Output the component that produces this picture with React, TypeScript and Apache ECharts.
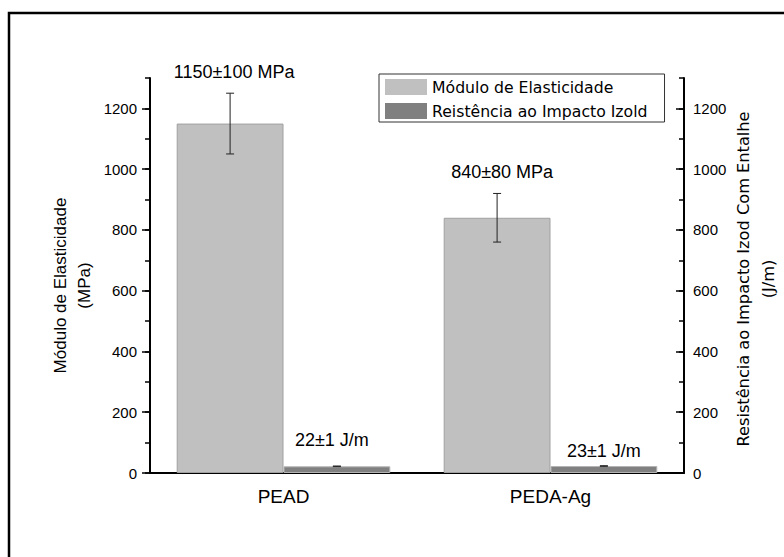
import { useEffect, useRef } from "react";
import * as echarts from "echarts";

const categories = ["PEAD", "PEDA-Ag"];
const seriesNames = ["Módulo de Elasticidade", "Reistência ao Impacto Izold"];
const modulusValues = [1150, 840];
const modulusErrors = [100, 80];
const impactValues = [22, 23];
const impactErrors = [1, 1];
const modulusLabels = ["1150±100 MPa", "840±80 MPa"];
const impactLabels = ["22±1 J/m", "23±1 J/m"];
const majorTicks = [0, 200, 400, 600, 800, 1000, 1200];
const axisMax = 1300;
const leftTitle = "Módulo de Elasticidade\n(MPa)";
const rightTitle = "Resistência ao Impacto Izod Com Entalhe\n(J/m)";

const ARIAL = '"Liberation Sans", Arial, sans-serif';
const TAHOMA = '"DejaVu Sans", Tahoma, sans-serif';

function errorSeries(
  name: string,
  values: number[],
  errors: number[],
  labels: string[],
  yAxisIndex: number,
  offsetFrac: number,
  lifts: number[],
  shifts: number[]
) {
  return {
    type: "custom",
    name,
    xAxisIndex: 0,
    yAxisIndex,
    z: 10,
    data: values.map((v, i) => [i, v, errors[i]]),
    encode: { x: 0, y: 1 },
    renderItem: (params: any, api: any) => {
      const idx = api.value(0);
      const v = api.value(1);
      const e = api.value(2);
      const band = api.size([1, 0])[0];
      const cx = api.coord([idx, v])[0] + offsetFrac * band;
      const yHi = api.coord([idx, v + e])[1];
      const yLo = api.coord([idx, v - e])[1];
      const cap = 4;
      const ls = { stroke: "#222", lineWidth: 1 };
      return {
        type: "group",
        children: [
          { type: "line", shape: { x1: cx, y1: yHi, x2: cx, y2: yLo }, style: ls },
          { type: "line", shape: { x1: cx - cap, y1: yHi, x2: cx + cap, y2: yHi }, style: ls },
          { type: "line", shape: { x1: cx - cap, y1: yLo, x2: cx + cap, y2: yLo }, style: ls },
          {
            type: "text",
            x: cx + shifts[params.dataIndex],
            y: yHi - lifts[params.dataIndex],
            style: {
              text: labels[params.dataIndex],
              fill: "#000",
              font: `18px ${ARIAL}`,
              align: "center",
              verticalAlign: "middle",
            },
          },
        ],
      };
    },
  };
}

export default function App() {
  const ref = useRef<HTMLDivElement>(null);
  useEffect(() => {
    const chart = echarts.init(ref.current!, null, { renderer: "svg" });
    const baseY = {
      type: "value",
      min: 0,
      max: axisMax,
      interval: 200,
      splitLine: { show: false },
    };
    const labelStyle = {
      color: "#000",
      fontFamily: ARIAL,
      fontSize: 15,
      formatter: (v: number) => String(v),
    };
    chart.setOption({
      animation: false,
      backgroundColor: "#fff",
      graphic: [
        {
          type: "rect",
          shape: { x: 9, y: 13, width: 820, height: 600 },
          style: { fill: "none", stroke: "#000", lineWidth: 2.5 },
          silent: true,
        },
      ],
      grid: { left: 150, right: 100, top: 78, bottom: 84, containLabel: false, outerBoundsMode: "none" },
      legend: {
        data: seriesNames,
        orient: "vertical",
        left: 379,
        top: 74,
        itemWidth: 42,
        itemHeight: 16,
        itemGap: 8,
        padding: [5, 17, 3, 6],
        borderColor: "#333",
        borderWidth: 1,
        borderRadius: 0,
        icon: "rect",
        itemStyle: { borderWidth: 0 },
        selectedMode: false,
        textStyle: { color: "#000", fontFamily: TAHOMA, fontSize: 15.7 },
      },
      xAxis: [
        {
          type: "category",
          data: categories,
          axisLine: { lineStyle: { color: "#000", width: 2 } },
          axisTick: { alignWithLabel: true, length: 7, lineStyle: { color: "#000", width: 1.5 } },
          axisLabel: { color: "#000", fontFamily: ARIAL, fontSize: 19, margin: 14 },
        },
        {
          type: "category",
          data: categories,
          position: "bottom",
          axisLine: { show: false },
          axisTick: { length: 7, lineStyle: { color: "#000", width: 1.5 } },
          axisLabel: { show: false },
        },
      ],
      yAxis: [
        {
          ...baseY,
          position: "left",
          name: leftTitle,
          nameLocation: "middle",
          nameRotate: 90,
          nameGap: 54,
          nameMoveOverlap: false,
          nameTextStyle: {
            color: "#000",
            fontFamily: ARIAL,
            fontSize: 17,
            lineHeight: 24,
            padding: [0, 20, 0, 0],
          },
          axisLine: { show: true, lineStyle: { color: "#000", width: 2 } },
          axisTick: { show: true, length: 8, customValues: majorTicks, lineStyle: { color: "#000", width: 1.5 } },
          axisLabel: { ...labelStyle, margin: 13, customValues: majorTicks },
        },
        {
          ...baseY,
          position: "right",
          name: rightTitle,
          nameLocation: "middle",
          nameRotate: 90,
          nameGap: 47,
          nameMoveOverlap: false,
          nameTextStyle: {
            color: "#000",
            fontFamily: TAHOMA,
            fontSize: 16.2,
            lineHeight: 25,
            padding: [0, 7, 0, 0],
          },
          axisLine: { show: true, lineStyle: { color: "#000", width: 2 } },
          axisTick: { show: true, inside: true, length: 8, customValues: majorTicks, lineStyle: { color: "#000", width: 1.5 } },
          axisLabel: { ...labelStyle, margin: 9, customValues: majorTicks },
        },
        {
          type: "value",
          min: 0,
          max: axisMax,
          interval: 100,
          position: "left",
          splitLine: { show: false },
          axisLine: { show: false },
          axisLabel: { show: false },
          axisTick: { show: true, length: 5, lineStyle: { color: "#000", width: 1.5 } },
        },
        {
          type: "value",
          min: 0,
          max: axisMax,
          interval: 100,
          position: "right",
          splitLine: { show: false },
          axisLine: { show: false },
          axisLabel: { show: false },
          axisTick: { show: true, inside: true, length: 5, lineStyle: { color: "#000", width: 1.5 } },
        },
      ],
      series: [
        {
          type: "bar",
          name: seriesNames[0],
          xAxisIndex: 0,
          yAxisIndex: 0,
          data: modulusValues,
          barGap: "0%",
          barCategoryGap: "20%",
          itemStyle: { color: "#c0c0c0", borderColor: "#a0a0a0", borderWidth: 1 },
        },
        {
          type: "bar",
          name: seriesNames[1],
          xAxisIndex: 0,
          yAxisIndex: 1,
          data: impactValues,
          barGap: "0%",
          barCategoryGap: "20%",
          itemStyle: { color: "#808080", borderColor: "#b4b4b4", borderWidth: 1 },
        },
        errorSeries("errA", modulusValues, modulusErrors, modulusLabels, 0, -0.2, [21, 21], [4, 5]),
        errorSeries("errB", impactValues, impactErrors, impactLabels, 1, 0.2, [26, 15], [-5, 0]),
      ],
    });
    return () => chart.dispose();
  }, []);
  return (
    <div
      ref={ref}
      style={{ position: "absolute", left: 0, top: 0, width: 784, height: 557 }}
    />
  );
}
